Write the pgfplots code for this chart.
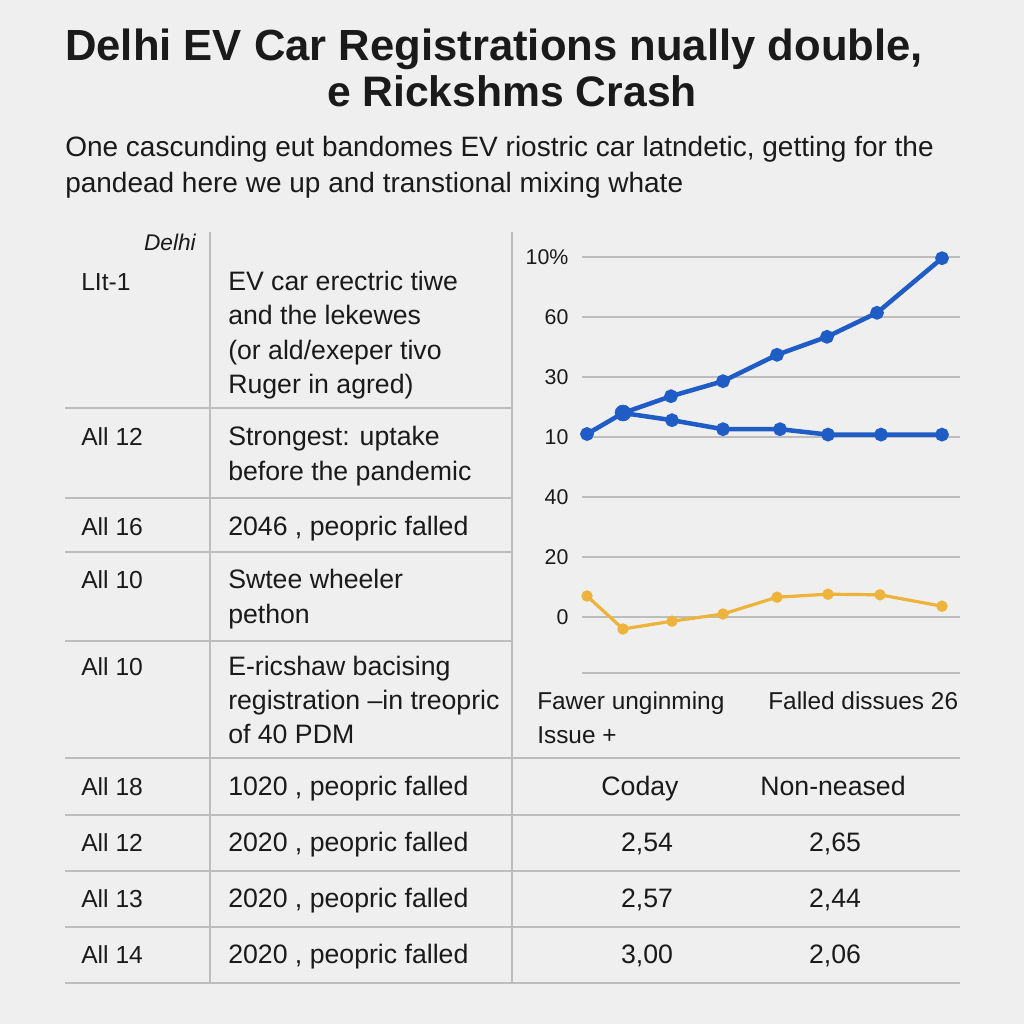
\documentclass[border=0pt]{standalone}
\usepackage{pgfplots}
\pgfplotsset{compat=1.18}
\usepackage{fontspec}
\setmainfont{Liberation Sans}
\definecolor{bg}{HTML}{EFEFEF}
\definecolor{ink}{HTML}{1A1A1A}
\definecolor{evblue}{HTML}{1F5CC6}
\definecolor{evorange}{HTML}{EDB33A}
\definecolor{rule}{HTML}{BDBDBD}
\newcommand{\tf}{\fontsize{20pt}{24pt}\selectfont}
\newcommand{\lf}{\fontsize{18.5pt}{22pt}\selectfont}
\begin{document}
\begin{tikzpicture}
\begin{scope}[x=0.75pt,y=-0.75pt]
\fill[bg] (0,0) rectangle (1024,1024);
% title
\node[anchor=base,text=ink,inner sep=0pt,font=\fontsize{32.7pt}{38pt}\selectfont\bfseries] at (494,61) {Delhi EV Car Registrations nually double,};
\node[anchor=base,text=ink,inner sep=0pt,font=\fontsize{32pt}{38pt}\selectfont\bfseries] at (512,107) {e Rickshms Crash};
\node[anchor=base west,text=ink,inner sep=0pt,font=\fontsize{21pt}{25pt}\selectfont] at (65,156) {One cascunding eut bandomes EV riostric car latndetic, getting for the};
\node[anchor=base west,text=ink,inner sep=0pt,font=\fontsize{21pt}{25pt}\selectfont] at (65,192) {pandead here we up and transtional mixing whate};
% table rules
\draw[rule,line width=1.1pt] (210,232) -- (210,983);
\draw[rule,line width=1.1pt] (512,232) -- (512,983);
\foreach \yy in {408,498,552,641} {\draw[rule,line width=1.1pt] (65,\yy) -- (512,\yy);}
\foreach \yy in {758,815,871,927,983} {\draw[rule,line width=1.1pt] (65,\yy) -- (960,\yy);}
\draw[rule,line width=1.1pt] (582,673) -- (960,673);
% left table text
\node[anchor=base east,text=ink,inner sep=0pt,font=\fontsize{17pt}{20pt}\selectfont\itshape] at (196,250) {Delhi};
\begin{scope}[every node/.style={anchor=base west,text=ink,font=\lf,inner sep=0pt}]
\node at (81,290) {LIt-1};
\node at (81,445) {All 12};
\node at (81,535) {All 16};
\node at (81,588) {All 10};
\node at (81,675) {All 10};
\node at (81,795) {All 18};
\node at (81,851) {All 12};
\node at (81,907) {All 13};
\node at (81,963) {All 14};
\end{scope}
\begin{scope}[every node/.style={anchor=base west,text=ink,font=\tf,inner sep=0pt}]
\node at (228,290) {EV car erectric tiwe};
\node at (228,324) {and the lekewes};
\node at (228,359) {(or ald/exeper tivo};
\node at (228,393) {Ruger in agred)};
\node at (228,445) {Strongest: uptake};
\node at (228,480) {before the pandemic};
\node at (228,535) {2046 , peopric falled};
\node at (228,588) {Swtee wheeler};
\node at (228,623) {pethon};
\node at (228,675) {E-ricshaw bacising};
\node at (228,709) {registration --in treopric};
\node at (228,743) {of 40 PDM};
\node at (228,795) {1020 , peopric falled};
\node at (228,851) {2020 , peopric falled};
\node at (228,907) {2020 , peopric falled};
\node at (228,963) {2020 , peopric falled};
\end{scope}
\begin{scope}[every node/.style={anchor=base west,text=ink,font=\fontsize{18.3pt}{22pt}\selectfont,inner sep=0pt}]
\node at (537,709) {Fawer unginming};
\node at (537,743) {Issue +};
\node at (768,709) {Falled dissues 26};
\end{scope}
\begin{scope}[every node/.style={anchor=base,text=ink,font=\tf,inner sep=0pt}]
\node at (640,795) {Coday};
\node at (833,795) {Non-neased};
\node at (647,851) {2,54};
\node at (835,851) {2,65};
\node at (647,907) {2,57};
\node at (835,907) {2,44};
\node at (647,963) {3,00};
\node at (835,963) {2,06};
\end{scope}
\end{scope}
\begin{axis}[
  at={(436.5pt,-478.5pt)}, anchor=south west,
  x=0.75pt, y=45pt,
  xmin=582, xmax=960, ymin=-0.35, ymax=6.1,
  axis line style={draw=none},
  tick style={draw=none},
  xtick=\empty,
  ytick={0,1,2,3,4,5,6},
  yticklabels={0,20,40,10,30,60,10\%},
  yticklabel style={font=\fontsize{16pt}{18pt}\selectfont,text=ink,anchor=east,inner sep=0pt,xshift=-10pt},
  ymajorgrids,
  grid style={rule,line width=0.9pt},
  clip=false,
]
\addplot[evorange,line width=2.4pt,mark=*,mark size=3pt,mark options={fill=evorange,draw=evorange}] coordinates {
(587,0.35) (623,-0.20) (672,-0.07) (723,0.05) (777,0.33) (828,0.38) (880,0.37) (942,0.18)};
\addplot[evblue,line width=3.4pt,mark=*,mark size=3.4pt,mark options={fill=evblue,draw=evblue}] coordinates {
(623,3.40) (672,3.28) (723,3.13) (780,3.13) (828,3.04) (881,3.04) (942,3.04)};
\addplot[evblue,line width=3.4pt,mark=*,mark size=3.4pt,mark options={fill=evblue,draw=evblue}] coordinates {
(587,3.05) (623,3.40) (671,3.68) (723,3.93) (777,4.37) (827,4.67) (877,5.07) (942,5.98)};
\addplot[only marks,evblue,mark=*,mark size=6pt,mark options={fill=evblue,draw=evblue}] coordinates {(623,3.40)};
\end{axis}
\end{tikzpicture}
\end{document}
